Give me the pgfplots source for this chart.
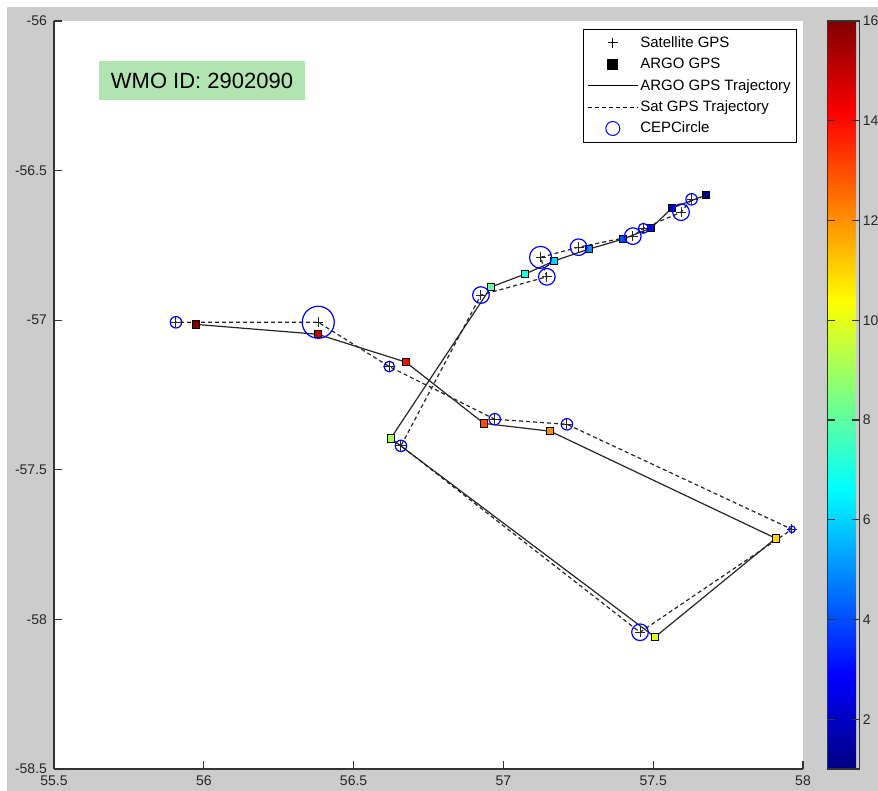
\documentclass[border=0pt]{standalone}
\usepackage{pgfplots}
\pgfplotsset{compat=1.18}
\usepackage{pgfplotstable}
\usepackage{fontspec}
\setmainfont{Liberation Sans}
\definecolor{figgray}{RGB}{204,204,204}
\definecolor{wmogreen}{RGB}{178,228,178}

\pgfplotstableread{
x y c
57.676 -56.582 1
57.563 -56.625 2
57.493 -56.692 3
57.399 -56.729 4
57.286 -56.762 5
57.169 -56.802 6
57.072 -56.846 7
56.959 -56.889 8
56.624 -57.395 9
57.506 -58.059 10
57.909 -57.729 11
57.156 -57.371 12
56.935 -57.345 13
56.674 -57.140 14
56.380 -57.047 15
55.973 -57.014 16
}\argodata

\pgfplotstableread{
x y r
57.628 -56.596 2.85
57.593 -56.639 4.15
57.467 -56.693 2.5
57.432 -56.719 4.15
57.251 -56.756 4.15
57.124 -56.790 5.5
57.145 -56.855 4.15
56.925 -56.916 4.15
56.658 -57.420 2.85
57.456 -58.043 4.15
57.963 -57.699 1.65
57.212 -57.348 2.85
56.971 -57.331 2.85
56.619 -57.155 2.65
56.382 -57.007 8.0
55.907 -57.007 2.85
}\satdata

\begin{document}
\begin{tikzpicture}
\fill[white] (-27pt,-11pt) rectangle (412pt,384.5pt);
\fill[figgray] (-23.5pt,-11pt) rectangle (412pt,381pt);
\begin{axis}[
  at={(0pt,0pt)}, anchor=south west,
  width=374.5pt, height=374pt, scale only axis,
  xmin=55.5, xmax=58, ymin=-58.5, ymax=-56,
  axis x line*=bottom, axis y line*=left,
  axis line style={black!80, line width=0.6pt},
  axis background/.style={fill=white},
  xtick={55.5,56,56.5,57,57.5,58},
  xticklabels={55.5,56,56.5,57,57.5,58},
  ytick={-58.5,-58,-57.5,-57,-56.5,-56},
  yticklabels={-58.5,-58,-57.5,-57,-56.5,-56},
  tick align=inside, major tick length=3.75pt,
  tick style={black!80, line width=0.6pt},
  ticklabel style={font=\fontsize{7}{8}\selectfont, text=black!85},
  colormap/jet, point meta min=1, point meta max=16,
  colorbar,
  colorbar style={
    at={(parent axis.north east)}, anchor=north west, xshift=3.85pt,
    width=15.8pt, height=374pt,
    ytick={2,4,6,8,10,12,14,16},
    yticklabels={2,4,6,8,10,12,14,16},
    yticklabel pos=right, ytick pos=both,
    tick align=inside, major tick length=3.75pt,
    tick style={black!80, line width=0.6pt},
    axis line style={black!80, line width=0.6pt},
    yticklabel style={font=\fontsize{7}{8}\selectfont, text=black!85, inner xsep=1.5pt},
  },
  legend style={
    at={(1,1)}, anchor=north east, xshift=-3pt, yshift=-4pt,
    draw=black, fill=white,
    font=\fontsize{7.5}{9}\selectfont,
    inner xsep=2pt, inner ysep=2pt,
    row sep=1.2pt,
    nodes={inner sep=1pt, text height=6pt, text depth=1.5pt},
  },
  legend cell align=left,
]
\addlegendimage{legend image code/.code={\draw[black,line width=0.5pt] (10pt,0pt)--(15pt,0pt) (12.5pt,-2.5pt)--(12.5pt,2.5pt);}}
\addlegendentry{Satellite GPS}
\addlegendimage{legend image code/.code={\fill[black] (10pt,-2.5pt) rectangle (15pt,2.5pt);}}
\addlegendentry{ARGO GPS}
\addlegendimage{legend image code/.code={\draw[black,line width=0.5pt] (0pt,0pt)--(25pt,0pt);}}
\addlegendentry{ARGO GPS Trajectory}
\addlegendimage{legend image code/.code={\draw[black,line width=0.5pt,dash pattern=on 2pt off 1.5pt] (0pt,0pt)--(25pt,0pt);}}
\addlegendentry{Sat GPS Trajectory}
\addlegendimage{legend image code/.code={\draw[blue,line width=0.5pt] (12.5pt,0pt) circle (3.5pt);}}
\addlegendentry{CEPCircle}

\addplot[black!85, line width=0.6pt, forget plot] table[x=x,y=y] {\argodata};
\addplot[black!85, line width=0.6pt, dash pattern=on 2pt off 1.5pt, forget plot] table[x=x,y=y] {\satdata};
\addplot[scatter, only marks, mark=square*, mark size=1.8pt, point meta=explicit,
  scatter/use mapped color={draw=black, fill=mapped color}, mark options={line width=0.4pt},
  forget plot] table[x=x,y=y,meta=c] {\argodata};
\addplot[only marks, mark=+, mark size=2.5pt, black!85, mark options={line width=0.5pt}, forget plot]
  table[x=x,y=y] {\satdata};
\addplot[scatter, only marks, mark=o, point meta=explicit,
  scatter/use mapped color={draw=blue, fill=none},
  visualization depends on={\thisrow{r}\as\rad},
  scatter/@pre marker code/.append style={/tikz/mark size=\rad},
  mark options={line width=0.6pt},
  forget plot] table[x=x,y=y,meta=r] {\satdata};

\node[fill=wmogreen, inner sep=0pt, minimum width=103pt, minimum height=19.5pt,
  font=\fontsize{11}{13}\selectfont] at (axis cs:55.994,-56.2005) {WMO ID: 2902090};
\end{axis}
\pgfresetboundingbox
\useasboundingbox (-27pt,-11pt) rectangle (412pt,384.5pt);
\end{tikzpicture}
\end{document}
